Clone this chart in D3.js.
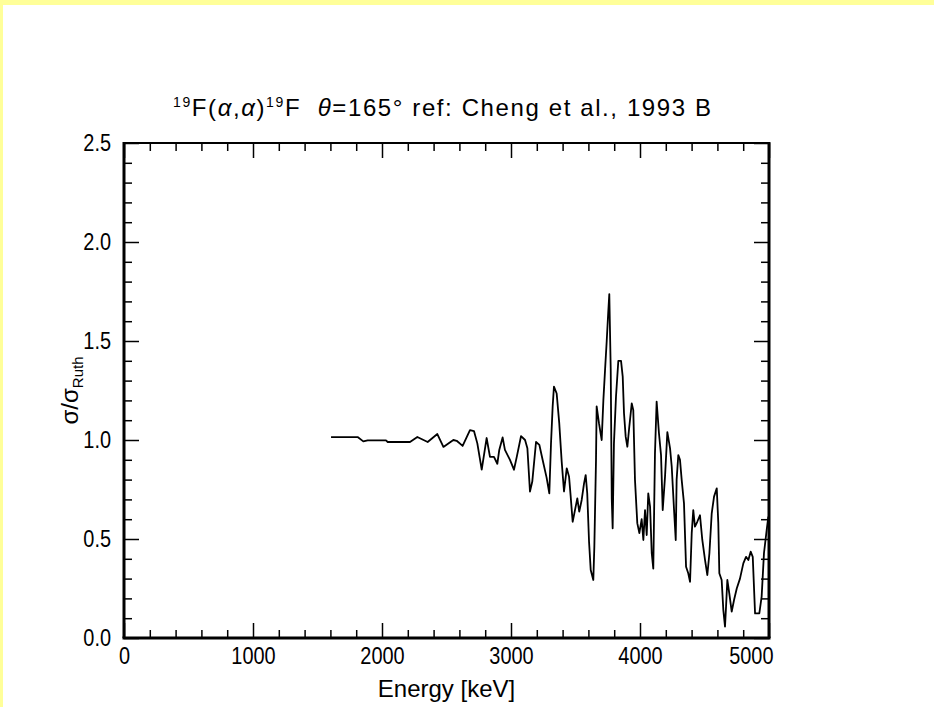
<!DOCTYPE html>
<html>
<head>
<meta charset="utf-8">
<script src="https://cdnjs.cloudflare.com/ajax/libs/d3/7.8.5/d3.min.js"></script>
<style>
  body { margin: 0; background: #ffff99; }
  svg { display: block; }
  svg text { font-family: "Liberation Sans", Arial, sans-serif; fill: #000; white-space: pre; }
</style>
</head>
<body>
<div id="chart"></div>
<script>
// sigma / sigma_Ruth, energy in keV
let energy = [1605, 1811, 1855, 1889, 2031, 2044, 2217, 2274, 2354, 2429, 2476, 2553, 2579, 2625, 2682, 2713, 2739, 2773, 2811, 2837,
  2868, 2894, 2909, 2935, 2953, 2992, 3023, 3043, 3078, 3109, 3127, 3147, 3165, 3194, 3220, 3245, 3276, 3297, 3310, 3323,
  3333, 3354, 3374, 3393, 3411, 3432, 3450, 3462, 3478, 3496, 3514, 3529, 3548, 3566, 3579, 3591, 3605, 3618, 3638, 3646,
  3659, 3664, 3682, 3703, 3716, 3729, 3742, 3754, 3762, 3773, 3781, 3788, 3798, 3814, 3832, 3853, 3866, 3876, 3889, 3902,
  3917, 3936, 3948, 3961, 3979, 3995, 4013, 4026, 4039, 4052, 4064, 4078, 4091, 4103, 4116, 4129, 4147, 4163, 4176, 4194,
  4212, 4233, 4246, 4264, 4277, 4284, 4297, 4310, 4323, 4341, 4357, 4374, 4388, 4401, 4413, 4426, 4444, 4465, 4483, 4504,
  4522, 4538, 4556, 4574, 4595, 4607, 4615, 4633, 4646, 4659, 4667, 4677, 4692, 4711, 4729, 4750, 4775, 4801, 4822, 4840,
  4858, 4874, 4892, 4925, 4943, 4961, 4982, 4995];
let ratio = [1.015, 1.015, 0.993, 0.998, 0.998, 0.99, 0.99, 1.015, 0.99, 1.03, 0.965, 1.0, 0.996, 0.97, 1.05, 1.045, 0.983, 0.85, 1.01, 0.915,
  0.915, 0.88, 0.95, 1.013, 0.95, 0.9, 0.85, 0.91, 1.02, 1.0, 0.958, 0.74, 0.79, 0.99, 0.975, 0.9, 0.81, 0.73, 0.98, 1.17,
  1.27, 1.235, 1.085, 0.89, 0.74, 0.857, 0.815, 0.72, 0.587, 0.646, 0.705, 0.638, 0.697, 0.78, 0.823, 0.73, 0.486, 0.343, 0.293, 0.46,
  0.9, 1.17, 1.085, 1.0, 1.2, 1.353, 1.5, 1.648, 1.737, 1.36, 0.705, 0.554, 0.983, 1.22, 1.4, 1.4, 1.32, 1.135, 1.017, 0.966,
  1.067, 1.185, 1.15, 0.8, 0.58, 0.53, 0.6, 0.495, 0.646, 0.52, 0.73, 0.663, 0.428, 0.35, 0.93, 1.194, 1.034, 0.924, 0.646, 0.815,
  1.04, 0.958, 0.865, 0.646, 0.495, 0.8, 0.924, 0.9, 0.8, 0.68, 0.36, 0.327, 0.284, 0.53, 0.646, 0.562, 0.587, 0.62, 0.495, 0.394,
  0.318, 0.428, 0.63, 0.714, 0.756, 0.58, 0.327, 0.293, 0.141, 0.057, 0.158, 0.293, 0.226, 0.133, 0.192, 0.25, 0.3, 0.377, 0.41, 0.394,
  0.436, 0.41, 0.124, 0.124, 0.209, 0.428, 0.545, 0.613];

let xMajorTicks = [0, 1000, 2000, 3000, 4000, 5000];
let xMinorTicks = [200, 400, 600, 800, 1200, 1400, 1600, 1800, 2200, 2400, 2600, 2800, 3200, 3400, 3600, 3800, 4200, 4400, 4600, 4800];
let yMajorTicks = [0, 0.5, 1.0, 1.5, 2.0, 2.5];
let yMinorTicks = [0.1, 0.2, 0.3, 0.4, 0.6, 0.7, 0.8, 0.9, 1.1, 1.2, 1.3, 1.4, 1.6, 1.7, 1.8, 1.9, 2.1, 2.2, 2.3, 2.4];

let svgWidth = 934, svgHeight = 707;
let plotLeft = 124, plotRight = 769, plotTop = 143, plotBottom = 638;

let svg = d3.select("#chart").append("svg")
  .attr("width", svgWidth)
  .attr("height", svgHeight);

// yellow page with a white sheet on it
svg.append("rect").attr("width", svgWidth).attr("height", svgHeight).attr("fill", "#ffff99");
svg.append("rect").attr("x", 3).attr("y", 5).attr("width", svgWidth - 3).attr("height", svgHeight - 5).attr("fill", "#fff");

let x = d3.scaleLinear().domain([0, 5000]).range([plotLeft, plotRight]);
let y = d3.scaleLinear().domain([0, 2.5]).range([plotBottom, plotTop]);

// squeeze a text to a narrow look (no narrow font installed)
function squeeze(sel, k) {
  sel.each(function() {
    let w = this.getComputedTextLength();
    d3.select(this).attr("textLength", w * k).attr("lengthAdjust", "spacingAndGlyphs");
  });
}

function styleAxis(g) {
  g.select(".domain").remove();
  g.selectAll(".tick line").attr("stroke", "#000").attr("stroke-width", 1.5);
  g.selectAll(".tick text").style("font-size", "24px").attr("fill", "#000");
}

// ticks point inwards on all four sides
svg.append("g").attr("transform", "translate(0," + plotBottom + ")")
  .call(d3.axisBottom(x).tickValues(xMajorTicks).tickSize(-15).tickPadding(9).tickFormat(d3.format("d")))
  .call(styleAxis)
  .call(g => squeeze(g.selectAll(".tick text"), 0.83))
  .call(g => g.selectAll(".tick text").filter(d => d === 5000).attr("text-anchor", "end").attr("dx", 4));
svg.append("g").attr("transform", "translate(0," + plotBottom + ")")
  .call(d3.axisBottom(x).tickValues(xMinorTicks).tickSize(-8).tickFormat(""))
  .call(styleAxis);
svg.append("g").attr("transform", "translate(0," + plotTop + ")")
  .call(d3.axisTop(x).tickValues(xMajorTicks).tickSize(-15).tickFormat(""))
  .call(styleAxis);
svg.append("g").attr("transform", "translate(0," + plotTop + ")")
  .call(d3.axisTop(x).tickValues(xMinorTicks).tickSize(-8).tickFormat(""))
  .call(styleAxis);

svg.append("g").attr("transform", "translate(" + plotLeft + ",0)")
  .call(d3.axisLeft(y).tickValues(yMajorTicks).tickSize(-15).tickPadding(13).tickFormat(d3.format(".1f")))
  .call(styleAxis)
  .call(g => squeeze(g.selectAll(".tick text"), 0.83));
svg.append("g").attr("transform", "translate(" + plotLeft + ",0)")
  .call(d3.axisLeft(y).tickValues(yMinorTicks).tickSize(-8).tickFormat(""))
  .call(styleAxis);
svg.append("g").attr("transform", "translate(" + plotRight + ",0)")
  .call(d3.axisRight(y).tickValues(yMajorTicks).tickSize(-15).tickFormat(""))
  .call(styleAxis);
svg.append("g").attr("transform", "translate(" + plotRight + ",0)")
  .call(d3.axisRight(y).tickValues(yMinorTicks).tickSize(-8).tickFormat(""))
  .call(styleAxis);

// frame
svg.append("line").attr("x1", plotLeft).attr("x2", plotRight).attr("y1", plotTop).attr("y2", plotTop).attr("stroke", "#000").attr("stroke-width", 2);
svg.append("line").attr("x1", plotLeft - 1.5).attr("x2", plotRight + 1.5).attr("y1", plotBottom).attr("y2", plotBottom).attr("stroke", "#000").attr("stroke-width", 3);
svg.append("line").attr("x1", plotLeft).attr("x2", plotLeft).attr("y1", plotTop - 1).attr("y2", plotBottom).attr("stroke", "#000").attr("stroke-width", 3);
svg.append("line").attr("x1", plotRight).attr("x2", plotRight).attr("y1", plotTop - 1).attr("y2", plotBottom).attr("stroke", "#000").attr("stroke-width", 3);

// data line
let line = d3.line().x(d => x(d[0])).y(d => y(d[1]));
svg.append("path")
  .datum(d3.zip(energy, ratio))
  .attr("d", line)
  .attr("fill", "none")
  .attr("stroke", "#000")
  .attr("stroke-width", 1.8)
  .attr("stroke-linejoin", "round");

// title
let title = svg.append("text")
  .attr("x", 442)
  .attr("y", 116)
  .attr("text-anchor", "middle")
  .attr("textLength", 538)
  .attr("lengthAdjust", "spacing")
  .style("font-size", "24px");
title.append("tspan").text("19").style("font-size", "14px").attr("dy", -9);
title.append("tspan").text("F(").attr("dy", 9);
title.append("tspan").text("α").style("font-style", "italic");
title.append("tspan").text(",");
title.append("tspan").text("α").style("font-style", "italic");
title.append("tspan").text(")");
title.append("tspan").text("19").style("font-size", "14px").attr("dy", -9);
title.append("tspan").text("F  ").attr("dy", 9);
title.append("tspan").text("θ").style("font-style", "italic");
title.append("tspan").text("=165° ref: Cheng et al., 1993 B");

// axis titles
svg.append("text")
  .attr("x", (plotLeft + plotRight) / 2)
  .attr("y", 697)
  .attr("text-anchor", "middle")
  .style("font-size", "24px")
  .text("Energy [keV]");

let yLabel = svg.append("text")
  .attr("transform", "translate(78," + ((plotTop + plotBottom) / 2) + ") rotate(-90)")
  .attr("text-anchor", "middle")
  .style("font-size", "24px");
yLabel.append("tspan").text("σ/σ");
yLabel.append("tspan").text("Ruth").style("font-size", "15px").attr("dy", 5);
</script>
</body>
</html>
